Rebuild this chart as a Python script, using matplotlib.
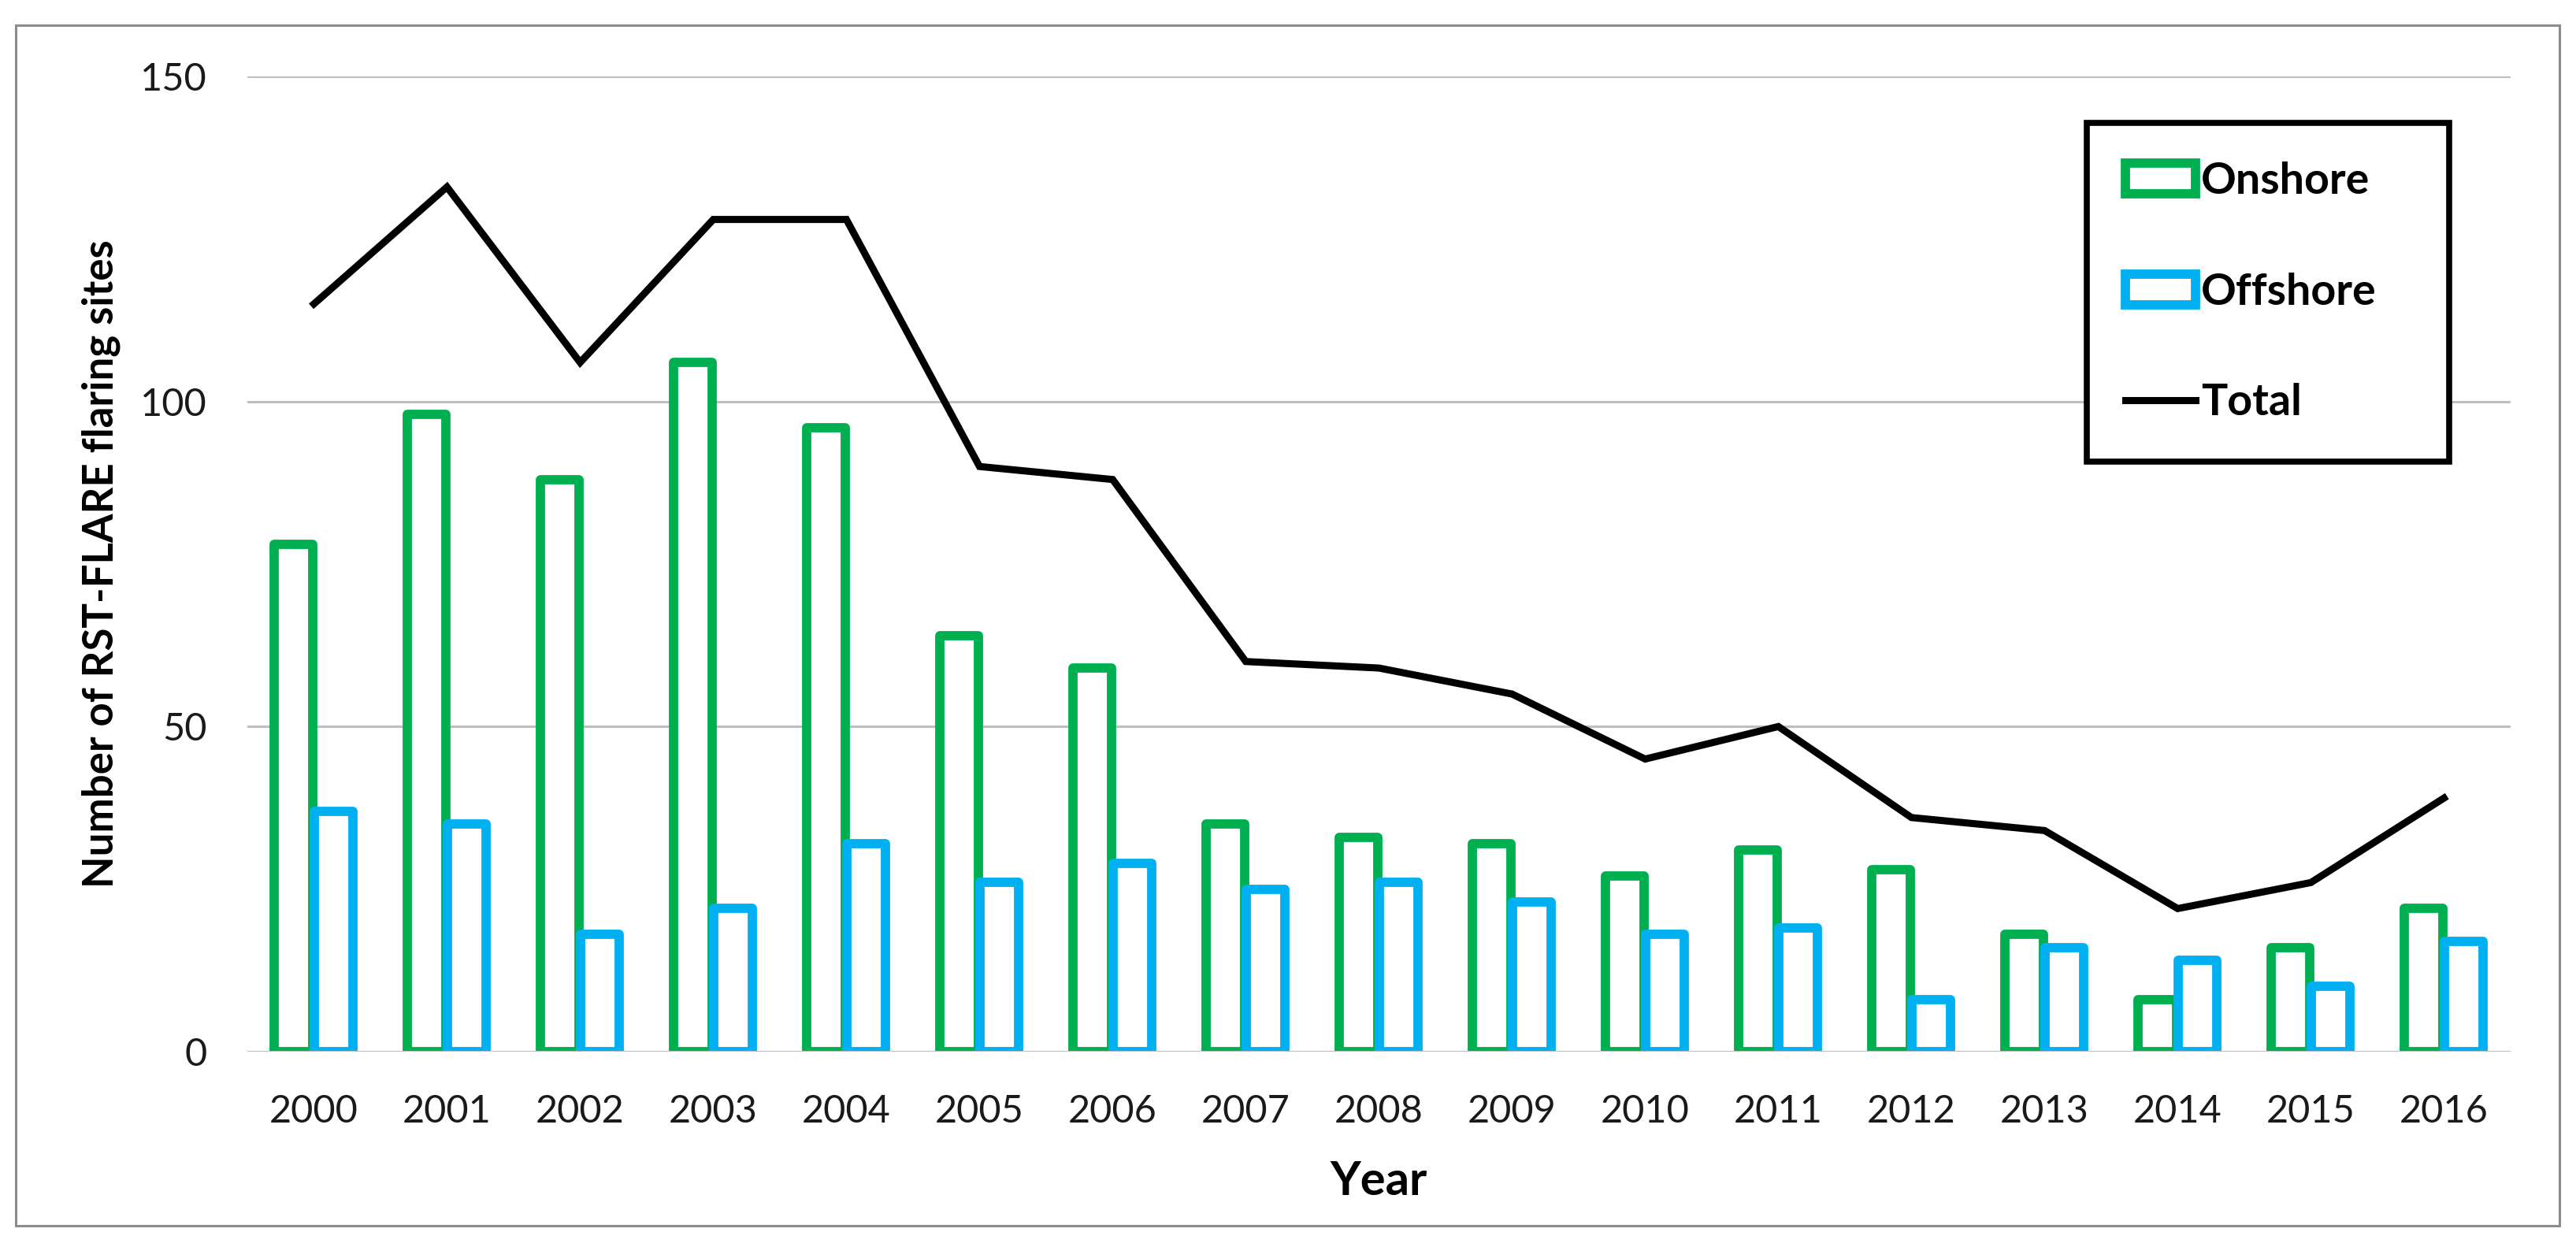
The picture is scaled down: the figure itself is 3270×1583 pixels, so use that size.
#!/usr/bin/env python3

import numpy as np
import matplotlib
matplotlib.use('Agg')
import matplotlib.pyplot as plt
from matplotlib.patches import Rectangle

# data
years = ['2000', '2001', '2002', '2003', '2004', '2005', '2006', '2007', '2008',
         '2009', '2010', '2011', '2012', '2013', '2014', '2015', '2016']
onshore = [78, 98, 88, 106, 96, 64, 59, 35, 33, 32, 27, 31, 28, 18, 8, 16, 22]
offshore = [37, 35, 18, 22, 32, 26, 29, 25, 26, 23, 18, 19, 8, 16, 14, 10, 17]
total = [115, 133, 106, 128, 128, 90, 88, 60, 59, 55, 45, 50, 36, 34, 22, 26, 39]
yticks = [0, 50, 100, 150]

green = '#00B050'
blue = '#00B0F0'
grid_col = '#BFBFBF'

plt.rcParams['font.family'] = ['Lato', 'DejaVu Sans']

if __name__ == '__main__':
    fig = plt.figure(figsize=(32.7, 15.83), dpi=100)
    # outer frame round the whole chart
    fig.patches.append(Rectangle((0.0061, 0.0171), 0.9875, 0.9627,
                                 transform=fig.transFigure, fill=False,
                                 edgecolor='#8C8C8C', linewidth=2.2))
    ax = fig.add_axes([0.0960, 0.1567, 0.8786, 0.7820])

    x = np.arange(len(years))
    w = 0.29
    off = 0.151
    ax.bar(x - off, onshore, w, facecolor='white', edgecolor=green,
           linewidth=8.5, joinstyle='round', label='Onshore', zorder=2)
    ax.bar(x + off, offshore, w, facecolor='white', edgecolor=blue,
           linewidth=8.5, joinstyle='round', label='Offshore', zorder=3)
    ax.plot(x, total, color='black', linewidth=6.5, solid_joinstyle='miter',
            label='Total', zorder=4)
    ax.axhline(0, color=grid_col, linewidth=2.2, zorder=5)

    ax.set_xlim(-0.5, 16.5)
    ax.set_ylim(0, 150)
    ax.set_yticks(yticks)
    ax.set_xticks(x)
    ax.set_xticklabels(years)
    ax.yaxis.grid(True, color=grid_col, linewidth=2.2)
    ax.set_axisbelow(True)
    for s in ax.spines.values():
        s.set_visible(False)
    ax.tick_params(axis='both', length=0, labelsize=35, colors='#1a1a1a')
    ax.tick_params(axis='y', pad=37)
    ax.tick_params(axis='x', pad=39)

    ax.set_xlabel('Year', fontsize=43, fontweight='bold')
    ax.xaxis.set_label_coords(0.5, -0.133)
    ax.xaxis.label.set_va('center')
    ax.set_ylabel('Number of RST-FLARE flaring sites', fontsize=38, fontweight='bold')
    ax.yaxis.set_label_coords(-0.0647, 0.5)
    ax.yaxis.label.set_va('center')

    # legend in the order Onshore, Offshore, Total
    handles, labels = ax.get_legend_handles_labels()
    order = [labels.index(n) for n in ['Onshore', 'Offshore', 'Total']]
    leg = ax.legend([handles[i] for i in order], [labels[i] for i in order],
                    loc='upper left', bbox_to_anchor=(0.8101, 0.9015, 0.1407, 0.0),
                    bbox_transform=fig.transFigure, mode='expand', borderaxespad=0,
                    fancybox=False, edgecolor='black', framealpha=1,
                    prop={'size': 40, 'weight': 'bold'}, handlelength=1.6,
                    handletextpad=0.12, labelspacing=1.63, borderpad=0.89)
    leg.get_frame().set_linewidth(5.5)

    fig.savefig('out.png', dpi=100)
